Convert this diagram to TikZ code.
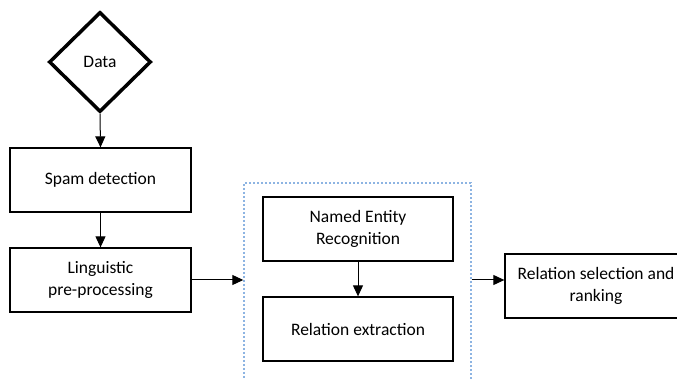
\documentclass[tikz,border=0pt]{standalone}
\usepackage{fontspec}
\setmainfont{Carlito}
\usetikzlibrary{arrows.meta,shapes.geometric}

\definecolor{groupblue}{RGB}{141,180,226}

\tikzset{
  stepbox/.style={draw, line width=1.3pt, minimum width=181pt, minimum height=64pt, align=center, inner sep=2pt},
  databox/.style={draw, diamond, line width=3.5pt, minimum width=102pt, minimum height=100pt, inner sep=0pt},
  groupbox/.style={draw=groupblue, dash pattern=on 2pt off 2pt, line width=1.4pt, minimum width=227pt, minimum height=217pt},
  flow/.style={-{Triangle[length=11pt,width=10pt]}, line width=1pt}
}

\begin{document}
\begin{tikzpicture}[x=1pt, y=-1pt, font=\fontsize{17.5}{22}\selectfont]
\useasboundingbox (0,0) rectangle (677,379);
\clip (0,0) rectangle (677,379);

\node [databox] (data) at (100,62) {Data};

\node [stepbox] (spam) at (100.5,180) {Spam detection};
\node [stepbox] (ling) at (100.5,280) {Linguistic\\pre-processing};

\node [groupbox] (group) at (357.5,291.5) {};
\node [stepbox, minimum width=190pt] (ner) at (358,229) {Named Entity\\Recognition};
\node [stepbox, minimum width=190pt] (relext) at (358,329) {Relation extraction};

\node [stepbox, minimum width=182pt] (relsel) at (596,286) {Relation selection and\\ranking};

\draw 
[flow] 
(data.south)--(spam.north);
\draw 
[flow] 
(spam.south)--(ling.north);
\draw 
[flow] 
(ling.east)--(ling.east -| group.west);
\draw 
[flow] 
(ner.south)--(relext.north);
\draw 
[flow] 
(ling.east -| group.east)--(ling.east -| relsel.west);

\end{tikzpicture}
\end{document}
